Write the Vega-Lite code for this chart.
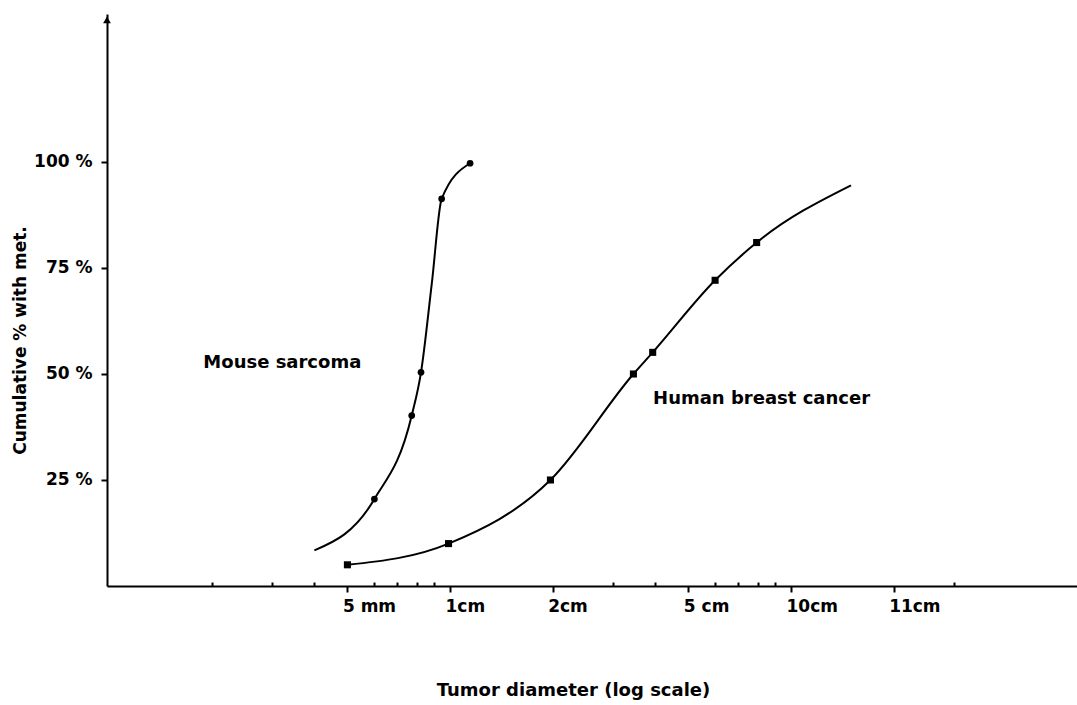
{
  "$schema": "https://vega.github.io/schema/vega-lite/v6.json",
  "width": 970,
  "height": 572,
  "autosize": "none",
  "padding": {"left": 107, "top": 14, "right": 0, "bottom": 119},
  "background": "white",
  "config": {
    "view": {"stroke": null},
    "font": "DejaVu Sans",
    "axis": {
      "domainColor": "black",
      "domainWidth": 2,
      "tickColor": "black",
      "tickWidth": 2,
      "grid": false,
      "labelFont": "DejaVu Sans",
      "labelFontWeight": "bold",
      "labelColor": "black",
      "labelFontSize": 17,
      "titleFont": "DejaVu Sans",
      "titleFontWeight": "bold",
      "titleColor": "black",
      "titleFontSize": 18
    }
  },
  "datasets": {
    "curves": [
      {"series": "Mouse sarcoma", "x": 0.40, "y": 8.4, "marker": false},
      {"series": "Mouse sarcoma", "x": 0.60, "y": 20.5, "marker": true},
      {"series": "Mouse sarcoma", "x": 0.772, "y": 40.2, "marker": true},
      {"series": "Mouse sarcoma", "x": 0.822, "y": 50.4, "marker": true},
      {"series": "Mouse sarcoma", "x": 0.884, "y": 71.3, "marker": false},
      {"series": "Mouse sarcoma", "x": 0.945, "y": 91.3, "marker": true},
      {"series": "Mouse sarcoma", "x": 1.145, "y": 99.7, "marker": true},
      {"series": "Human breast cancer", "x": 0.50, "y": 5.0, "marker": true},
      {"series": "Human breast cancer", "x": 0.99, "y": 10.0, "marker": true},
      {"series": "Human breast cancer", "x": 1.97, "y": 25.0, "marker": true},
      {"series": "Human breast cancer", "x": 3.45, "y": 50.0, "marker": true},
      {"series": "Human breast cancer", "x": 3.93, "y": 55.1, "marker": true},
      {"series": "Human breast cancer", "x": 5.99, "y": 72.1, "marker": true},
      {"series": "Human breast cancer", "x": 7.93, "y": 81.0, "marker": true},
      {"series": "Human breast cancer", "x": 15.0, "y": 94.5, "marker": false}
    ],
    "labels": [
      {"label": "Mouse sarcoma", "x": 0.189, "y": 52.5},
      {"label": "Human breast cancer", "x": 3.94, "y": 44.2}
    ]
  },
  "layer": [
    {
      "data": {"name": "curves"},
      "mark": {"type": "line", "interpolate": "monotone", "color": "black", "strokeWidth": 2},
      "encoding": {
        "x": {
          "field": "x",
          "type": "quantitative",
          "scale": {"type": "log", "domain": [0.0986, 69], "nice": false},
          "axis": {
            "values": [0.2, 0.3, 0.4, 0.5, 0.6, 0.7, 0.8, 0.9, 1, 2, 3, 4, 5, 6, 7, 8, 9, 10, 20, 30],
            "labelExpr": "datum.value == 0.5 ? '5 mm' : datum.value == 1 ? '1cm' : datum.value == 2 ? '2cm' : datum.value == 5 ? '5 cm' : datum.value == 10 ? '10cm' : datum.value == 20 ? '11cm' : ''",
            "labelAlign": "left",
            "labelBaseline": "top",
            "labelOffset": -5,
            "labelPadding": 6,
            "labelOverlap": false,
            "labelFlush": false,
            "tickSize": {"condition": {"test": "indexof([0.5,1,2,5,10,20], datum.value) >= 0", "value": 6}, "value": -4},
            "title": "Tumor diameter (log scale)",
            "titleX": 466,
            "titleY": 104,
            "titleAnchor": null,
            "titleAlign": "center",
            "titleBaseline": "middle"
          }
        },
        "y": {
          "field": "y",
          "type": "quantitative",
          "scale": {"domain": [0, 134.9], "nice": false, "zero": false},
          "axis": {
            "values": [25, 50, 75, 100],
            "labelExpr": "datum.value + ' %'",
            "labelPadding": 9,
            "tickSize": 6,
            "title": "Cumulative % with met.",
            "titleFontSize": 17,
            "titleAngle": 270,
            "titleX": -87,
            "titleY": 326,
            "titleAnchor": null,
            "titleAlign": "center",
            "titleBaseline": "middle"
          }
        },
        "detail": {"field": "series", "type": "nominal"},
        "order": {"field": "x", "type": "quantitative"}
      }
    },
    {
      "data": {"name": "curves"},
      "transform": [{"filter": "datum.marker && datum.series == 'Mouse sarcoma'"}],
      "mark": {"type": "point", "shape": "circle", "filled": true, "color": "black", "size": 45, "opacity": 1},
      "encoding": {
        "x": {"field": "x", "type": "quantitative"},
        "y": {"field": "y", "type": "quantitative"}
      }
    },
    {
      "data": {"name": "curves"},
      "transform": [{"filter": "datum.marker && datum.series == 'Human breast cancer'"}],
      "mark": {"type": "point", "shape": "square", "filled": true, "color": "black", "size": 50, "opacity": 1},
      "encoding": {
        "x": {"field": "x", "type": "quantitative"},
        "y": {"field": "y", "type": "quantitative"}
      }
    },
    {
      "data": {"name": "labels"},
      "mark": {"type": "text", "align": "left", "baseline": "middle", "font": "DejaVu Sans", "fontWeight": "bold", "fontSize": 18, "color": "black"},
      "encoding": {
        "x": {"field": "x", "type": "quantitative"},
        "y": {"field": "y", "type": "quantitative"},
        "text": {"field": "label"}
      }
    },
    {
      "data": {"values": [{"axis": "y"}]},
      "mark": {"type": "point", "shape": "triangle-up", "filled": true, "color": "black", "size": 60, "opacity": 1, "clip": false},
      "encoding": {
        "x": {"datum": 0.0986, "type": "quantitative"},
        "y": {"datum": 133.5, "type": "quantitative"}
      }
    }
  ]
}
